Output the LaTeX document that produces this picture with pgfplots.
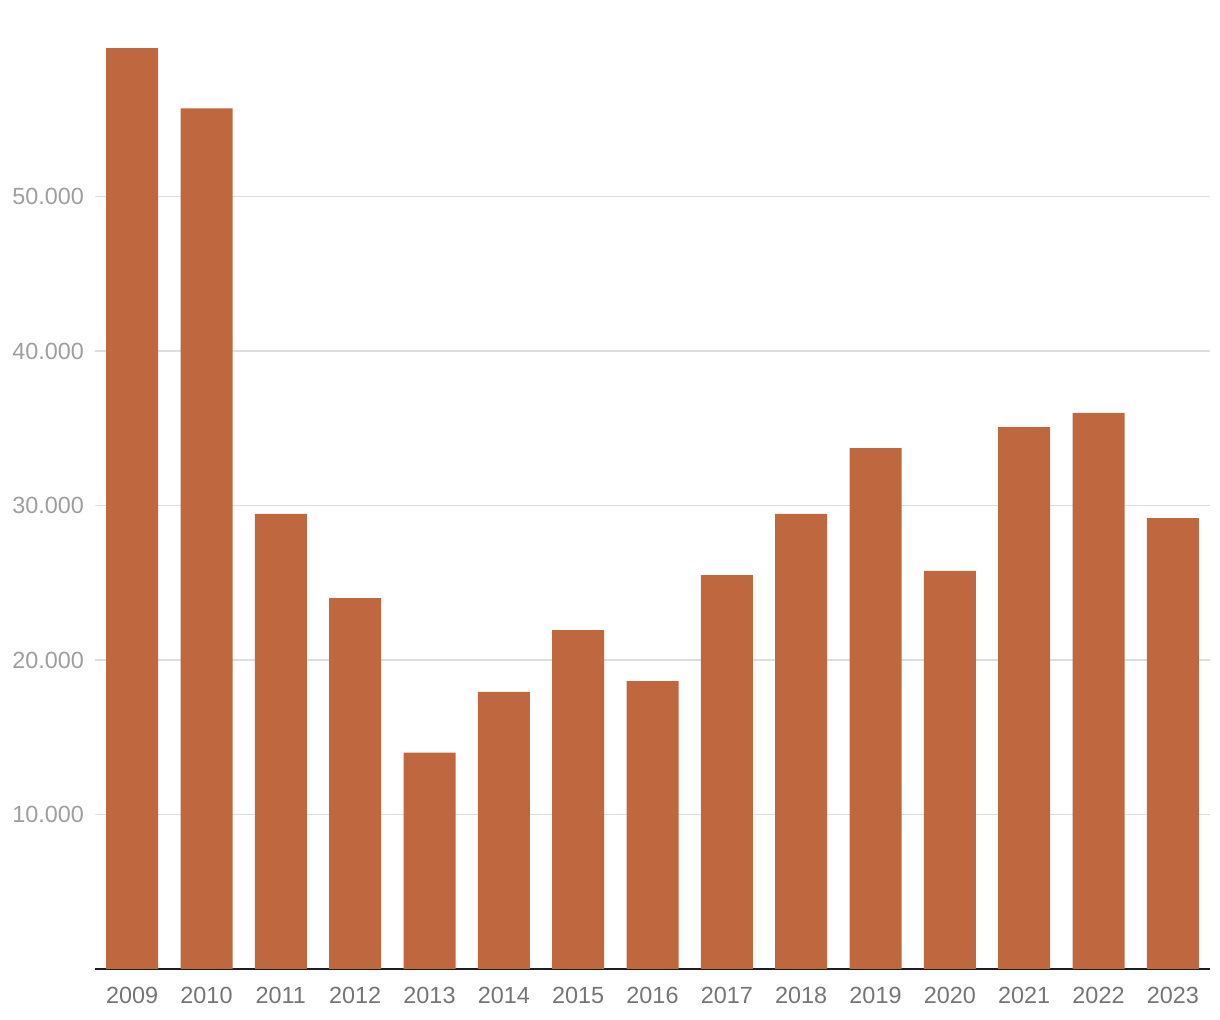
\documentclass[border=0pt]{standalone}
\usepackage{pgfplots}
\pgfplotsset{compat=1.18}
\usepackage{fontspec}
\setmainfont{Liberation Sans}
\definecolor{barc}{RGB}{191,104,64}
\definecolor{ylab}{RGB}{158,158,158}
\definecolor{xlab}{RGB}{117,117,117}
\definecolor{gridc}{RGB}{222,222,222}
\definecolor{axc}{RGB}{30,30,30}
\begin{document}
\begin{tikzpicture}
\useasboundingbox (-47.5pt,-25.5pt) rectangle (562.5pt,484.5pt);
\begin{axis}[
  at={(0,0)}, anchor=south west,
  scale only axis,
  width=557.5pt, height=463.5pt,
  xmin=-0.5, xmax=14.5,
  ymin=0, ymax=60000,
  axis x line*=bottom,
  axis y line*=left,
  x axis line style={draw=axc, line width=1.2pt, -},
  y axis line style={draw=none},
  scaled y ticks=false,
  ytick={10000,20000,30000,40000,50000},
  yticklabels={10.000,20.000,30.000,40.000,50.000},
  xtick={0,...,14},
  xticklabels={2009,2010,2011,2012,2013,2014,2015,2016,2017,2018,2019,2020,2021,2022,2023},
  major tick length=0pt,
  ymajorgrids,
  grid style={draw=gridc, line width=0.7pt},
  tick label style={font=\fontsize{11.7}{14}\selectfont},
  xticklabel style={text=xlab, yshift=-5.5pt},
  yticklabel style={text=ylab, xshift=-2pt},
  /pgf/number format/assume math mode=true,
  ybar, bar width=26pt,
]
\addplot[fill=barc, draw=none] coordinates {
(0,59600) (1,55700) (2,29450) (3,24000) (4,14000) (5,17930) (6,21940)
(7,18640) (8,25500) (9,29450) (10,33720) (11,25760) (12,35080) (13,35990) (14,29190)
};
\end{axis}
\end{tikzpicture}
\end{document}
